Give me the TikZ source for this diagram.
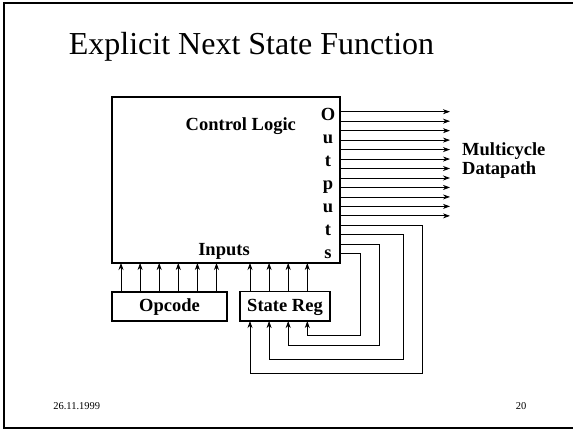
\documentclass[tikz,border=0pt]{standalone}
\usepackage{fontspec}
\setmainfont{Liberation Serif}
\usetikzlibrary{arrows.meta}
\begin{document}
\begin{tikzpicture}[x=1pt,y=-1pt,
  blk/.style={draw,line width=1.3pt,inner sep=0pt,outer sep=0pt},
  lbl/.style={font=\bfseries\fontsize{18.5}{20}\selectfont,inner sep=0pt,anchor=base},
  wire/.style={line width=0.75pt},
  arr/.style={wire,-{Stealth[length=7pt,width=5pt,inset=2.2pt]}},
  foot/.style={font=\fontsize{10.5}{12}\selectfont,inner sep=0pt,anchor=base}]
\useasboundingbox (0,0) rectangle (573,430);
\begin{scope}
\clip (0,0) rectangle (573,430);
\draw[line width=2pt] (4,3) rectangle (600,428);
\end{scope}
% title
\node[font=\fontsize{32}{36}\selectfont,inner sep=0pt,anchor=base] (title) at (251.5,55) {Explicit Next State Function};
% boxes
\node[blk,minimum width=228pt,minimum height=166pt] (cl) at (226,180) {};
\node[blk,minimum width=115pt,minimum height=29pt] (op) at (169.5,306.5) {};
\node[blk,minimum width=90pt,minimum height=29.5pt] (sr) at (285,306.3) {};
% labels
\node[lbl] (cltxt) at (240.8,131) {Control Logic};
\node[lbl] (intxt) at (224,256) {Inputs};
\node[lbl] (optxt) at (169.5,311.7) {Opcode};
\node[lbl] (srtxt) at (285,311.7) {State Reg};
\foreach \c [count=\i from 0] in {O,u,t,p,u,t,s}{
  \node[lbl] (out\i) at (328,120.7+23*\i) {\c};
}
\node[lbl,anchor=base west] (mc) at (462,155.5) {Multicycle};
\node[lbl,anchor=base west] (dp) at (462,175) {Datapath};
% footer
\node[foot] (date) at (76.7,409.3) {26.11.1999};
\node[foot] (page) at (521,409.3) {20};
% output arrows
\foreach \i in {0,...,11}{
  \coordinate (o\i) at (450,111.7+9.47*\i);
  \draw[arr] (cl.east |- o\i) -- (o\i);
}
% input arrows from opcode
\foreach \i in {0,...,5}{
  \coordinate (ia\i) at (121+19.1*\i,0);
  \draw[arr] (op.north -| ia\i) -- (cl.south -| ia\i);
}
% input arrows from state reg
\foreach \i in {0,...,3}{
  \coordinate (sa\i) at (250+19.1*\i,0);
  \draw[arr] (sr.north -| sa\i) -- (cl.south -| sa\i);
}
% feedback lines
\foreach \k/\xx/\yy in {0/422.7/373.3,1/403.3/359,2/379.3/345,3/360/335}{
  \coordinate (fy\k) at (0,225.3+9.47*\k);
  \coordinate (fc\k) at (\xx,\yy);
  \draw[arr] (cl.east |- fy\k) -| (fc\k) -| (sr.south -| sa\k);
}
\end{tikzpicture}
\end{document}
